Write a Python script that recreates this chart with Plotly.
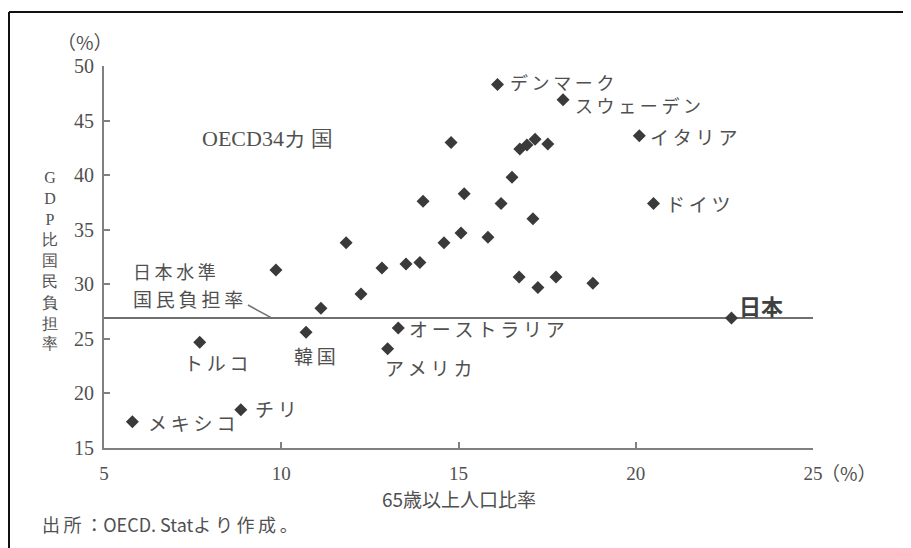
import plotly.graph_objects as go

# ---- data ----
countries = ["デンマーク", "スウェーデン", "イタリア", "ドイツ", "日本", "オーストラリア",
             "アメリカ", "韓国", "トルコ", "チリ", "メキシコ",
             "", "", "", "", "", "", "", "", "", "", "", "", "",
             "", "", "", "", "", "", "", "", "", "", ""]
aged_ratio = [16.1, 17.95, 20.1, 20.5, 22.7, 13.3, 13.0, 10.7, 7.7, 8.86, 5.8,
              14.79, 16.73, 16.93, 17.16, 17.52, 16.51, 15.16, 14.0, 16.2, 17.1,
              15.07, 14.59, 15.83, 9.85, 11.83, 12.84, 13.52, 13.91, 12.25, 11.12,
              16.71, 17.24, 17.75, 18.79]
burden_ratio = [48.3, 46.9, 43.6, 37.4, 26.9, 26.0, 24.1, 25.6, 24.7, 18.5, 17.4,
                43.0, 42.4, 42.76, 43.3, 42.85, 39.8, 38.3, 37.6, 37.4, 36.0,
                34.7, 33.8, 34.3, 31.3, 33.8, 31.5, 31.85, 32.0, 29.1, 27.8,
                30.66, 29.7, 30.66, 30.1]
x_ticks = [5, 10, 15, 20, 25]
y_ticks = [15, 20, 25, 30, 35, 40, 45, 50]

# label placement (style): (xshift, yshift, xanchor, size)
label_style = {
    "デンマーク": (11, 3, "left", 18),
    "スウェーデン": (11, -5, "left", 18),
    "イタリア": (10, -1, "left", 19),
    "ドイツ": (12, 0, "left", 19),
    "日本": (7, 13, "left", 22),
    "オーストラリア": (10, -1, "left", 19),
    "アメリカ": (-4, -19, "left", 19),
    "韓国": (9, -23, "center", 19),
    "トルコ": (17, -20, "center", 19),
    "チリ": (13, 1, "left", 19),
    "メキシコ": (15, -1, "left", 19),
}

TXT = "#505050"
AX = "#808080"
JP_FONT = "Noto Sans CJK JP"
SERIF = "Liberation Serif"
SP = "\u2009"  # thin space used for letter spacing

# page offset (body margin) compensation: plot area target 104..813 x, 66..448 y
OFF = 8
PL, PT, PW, PH = 104, 66, 709, 382


def px(xp):
    return (xp - PL) / PW


def py(yp):
    return (PT + PH - yp) / PH


def spaced(s):
    return SP.join(list(s))


jp_idx = countries.index("日本")
jp_level = burden_ratio[jp_idx]

fig = go.Figure()
# Japan level line
fig.add_trace(go.Scatter(x=[x_ticks[0], x_ticks[-1]], y=[jp_level, jp_level], mode="lines",
                         line=dict(color="#707070", width=2), hoverinfo="skip",
                         showlegend=False))
fig.add_trace(go.Scatter(x=aged_ratio, y=burden_ratio, mode="markers",
                         marker=dict(symbol="diamond", size=10, color="#3a3a3a"),
                         text=countries, showlegend=False))

annotations = []
for name, xv, yv in zip(countries, aged_ratio, burden_ratio):
    if not name:
        continue
    xs, ys, xa, fs = label_style[name]
    bold = name == "日本"
    annotations.append(dict(
        x=xv, y=yv, xref="x", yref="y",
        text=("<b>%s</b>" % name) if bold else spaced(name),
        showarrow=False, xanchor=xa, yanchor="middle", xshift=xs, yshift=ys,
        borderpad=0,
        font=dict(family=JP_FONT, size=fs,
                  color="#404040" if bold else TXT)))

annotations += [
    dict(x=px(267), y=py(138), xref="paper", yref="paper",
         text="OECD34カ" + SP + "国", showarrow=False, xanchor="center",
         yanchor="middle", font=dict(family=SERIF, size=22, color=TXT)),
    dict(x=px(131), y=py(271), xref="paper", yref="paper",
         text=spaced("日本水準"), showarrow=False, xanchor="left", yanchor="middle",
         font=dict(family=JP_FONT, size=18, color=TXT)),
    dict(x=px(131), y=py(298), xref="paper", yref="paper",
         text=spaced("国民負担率"), showarrow=False, xanchor="left", yanchor="middle",
         font=dict(family=JP_FONT, size=19, color=TXT)),
    dict(x=px(85), y=py(42), xref="paper", yref="paper",
         text="（%）", showarrow=False, xanchor="center", yanchor="middle",
         font=dict(family=JP_FONT, size=19, color=TXT)),
    dict(x=px(849), y=py(472), xref="paper", yref="paper",
         text="（%）", showarrow=False, xanchor="center", yanchor="middle",
         font=dict(family=JP_FONT, size=19, color=TXT)),
    dict(x=px(50), y=py(260), xref="paper", yref="paper",
         text="<br>".join(list("GDP比国民負担率")), showarrow=False,
         xanchor="center", yanchor="middle",
         font=dict(family=SERIF, size=16, color=TXT)),
    dict(x=px(459), y=py(498), xref="paper", yref="paper",
         text="65歳以上人口比率", showarrow=False, xanchor="center", yanchor="middle",
         borderpad=0, font=dict(family=JP_FONT, size=19, color=TXT)),
    dict(x=px(40), y=py(524), xref="paper", yref="paper",
         text=spaced("出所：") + "OECD. Stat" + spaced("より作成。"), showarrow=False,
         xanchor="left", yanchor="middle",
         font=dict(family=JP_FONT, size=18, color=TXT)),
]

shapes = [
    # leader line from 国民負担率 to Japan level
    dict(type="line", xref="x", yref="y", x0=9.06, y0=28.1, x1=9.74, y1=jp_level,
         line=dict(color="#707070", width=1.5)),
    # outer frame (left and top)
    dict(type="line", xref="paper", yref="paper", x0=px(9), x1=px(9),
         y0=py(12), y1=-0.4, line=dict(color="#111111", width=2)),
    dict(type="line", xref="paper", yref="paper", x0=px(9), x1=1.2,
         y0=py(12), y1=py(12), line=dict(color="#111111", width=2)),
]

fig.update_layout(
    width=911, height=548,
    margin=dict(l=PL - OFF, r=911 - (PL - OFF) - PW, t=PT - OFF, b=548 - (PT - OFF) - PH),
    paper_bgcolor="white", plot_bgcolor="white",
    annotations=annotations, shapes=shapes,
    xaxis=dict(range=[5, 25], tickvals=x_ticks, showgrid=False, zeroline=False,
               showline=True, linecolor=AX, linewidth=2, ticks="inside", ticklen=6,
               tickcolor=AX, tickwidth=1.5, ticklabelstandoff=7,
               tickfont=dict(family=SERIF, size=19, color=TXT)),
    yaxis=dict(range=[15, 50], tickvals=y_ticks, showgrid=False, zeroline=False,
               showline=True, linecolor=AX, linewidth=2, ticks="inside", ticklen=6,
               tickcolor=AX, tickwidth=1.5, ticklabelstandoff=4,
               tickfont=dict(family=SERIF, size=20, color=TXT)),
)

fig.write_html("out.html")
